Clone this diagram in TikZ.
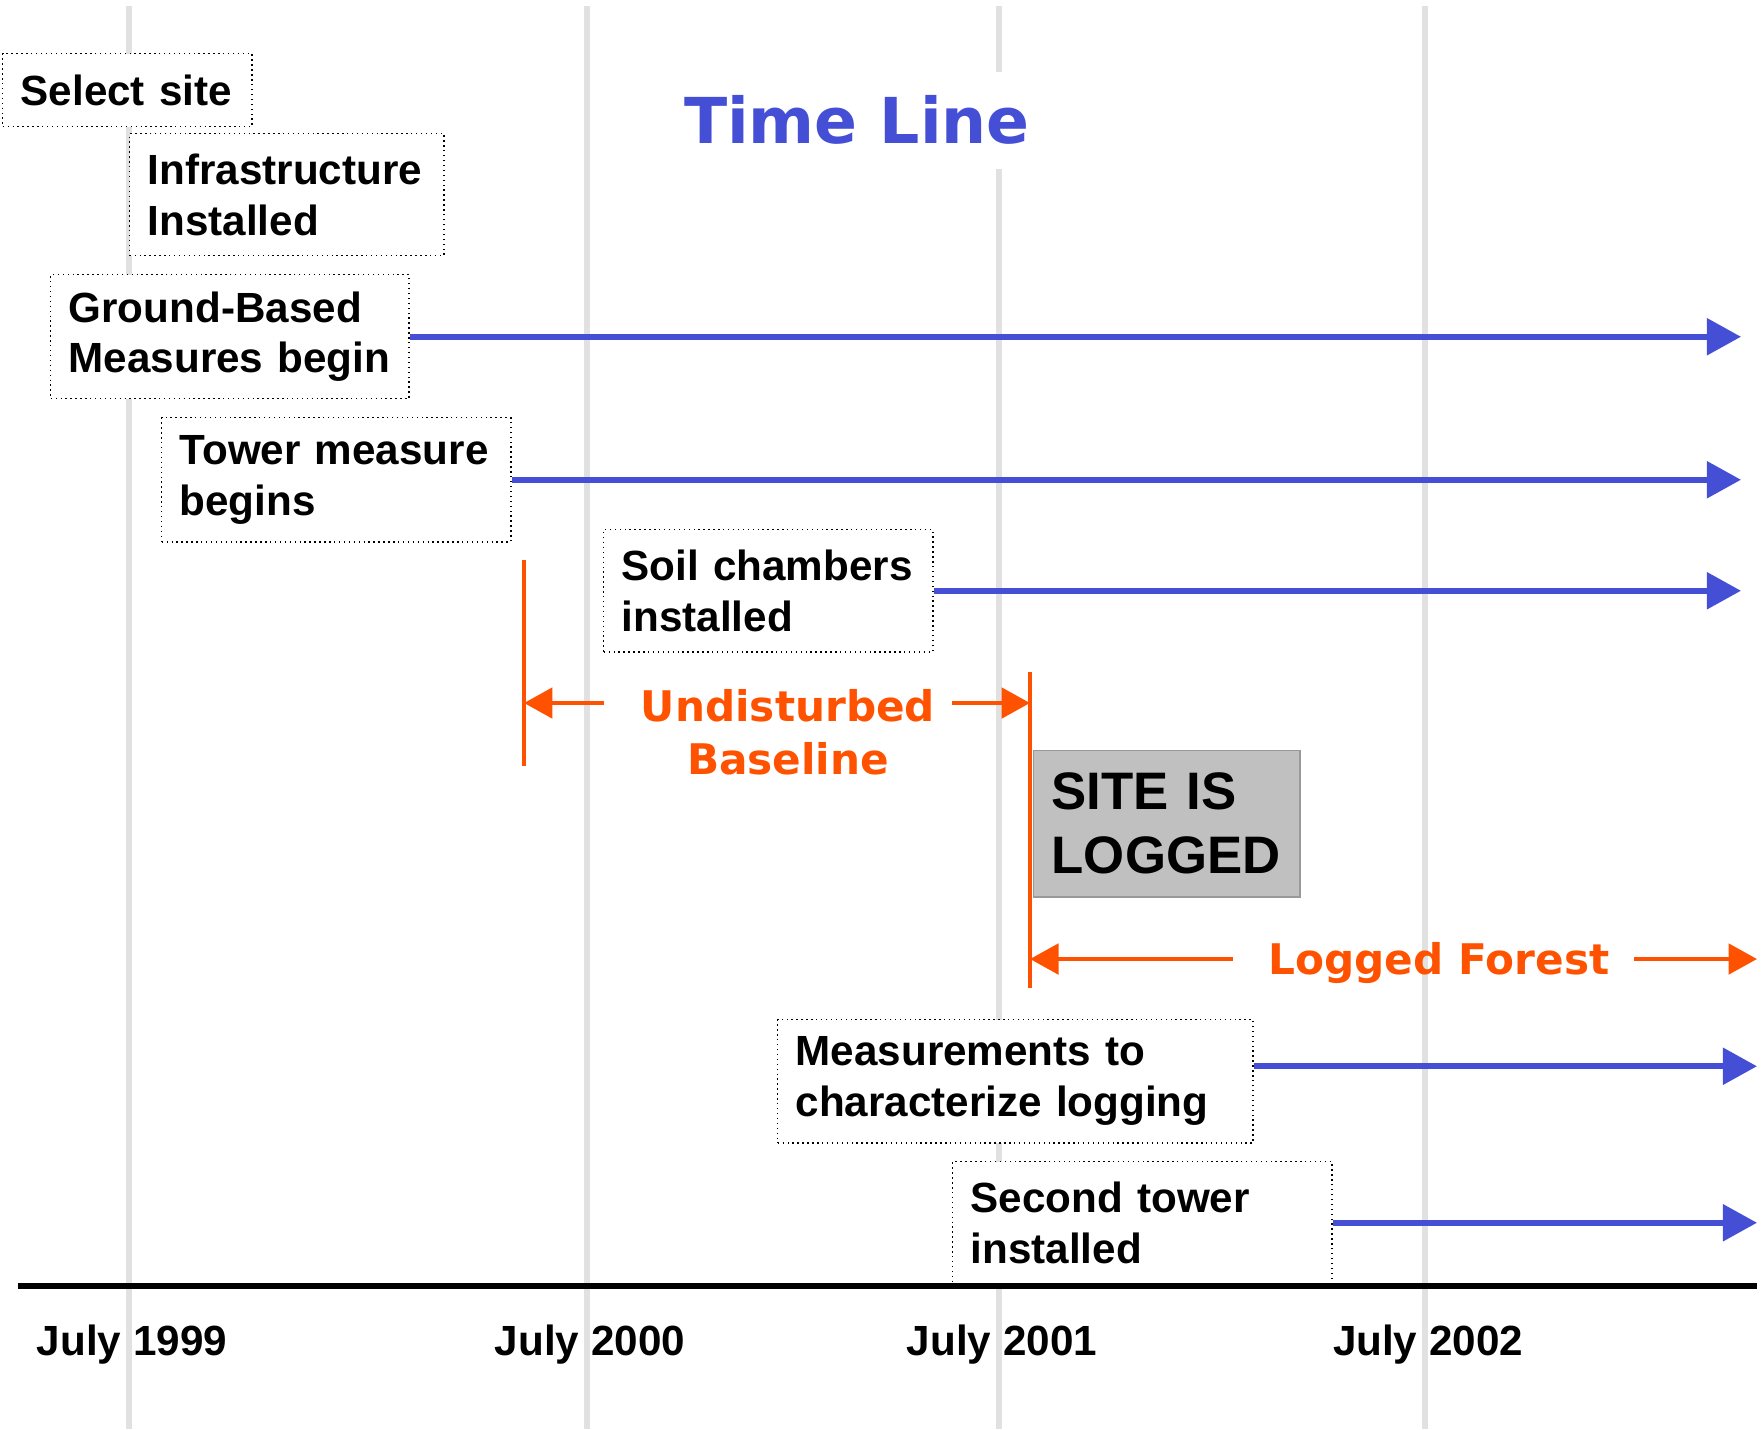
\documentclass[tikz,border=0pt]{standalone}
\usepackage{fontspec}
\setmainfont{Liberation Sans}
\newfontfamily\verdfont{DejaVu Sans}
\usetikzlibrary{arrows.meta}

\definecolor{lineblue}{RGB}{68,79,214}
\definecolor{cutorange}{RGB}{255,82,0}
\definecolor{gridgray}{RGB}{225,225,225}
\definecolor{loggray}{RGB}{192,192,192}

\tikzset{
  stage/.style={draw, densely dotted, line width=0.4pt, fill=white, anchor=north west,
    align=left, inner xsep=1.8mm, inner ysep=0pt,
    font=\fontsize{12}{14.4}\selectfont\bfseries},
  runs/.style={lineblue, line width=1.7pt, -{Triangle[length=9.7pt,width=10.2pt]}},
  cut/.style={cutorange, line width=1.3pt},
  cutarrow/.style={cut, -{Triangle[length=8.1pt,width=8.6pt]}},
  cutlabel/.style={text=cutorange, inner sep=0pt, align=center,
    font=\verdfont\fontsize{12}{15}\selectfont\bfseries},
  year/.style={font=\fontsize{12}{14.4}\selectfont\bfseries}
}

\begin{document}
\begin{tikzpicture}[x=0.01cm,y=-0.01cm]
  \useasboundingbox (0,0) rectangle (1764,1429);
  \def\top{6}
  \def\bottom{1429}
  %years
  \foreach \gx/\yr in {129/1999,587/2000,999/2001,1425/2002}{
    \draw[gridgray,line width=1.6pt] (\gx,\top) -- (\gx,\bottom);
    \node[year] (yr\yr) at (\gx+3,1345) {July \yr};
  }
  %title
  \node[fill=white,text=lineblue,inner xsep=1mm,inner ysep=2.4mm,
    font=\verdfont\fontsize{18}{22}\selectfont\bfseries] (title) at (857,120) {Time Line};
  %stages
  \node[stage,text width=21.3mm,minimum height=7.3mm] (sel) at (2,53) {Select~site};
  \node[stage,text width=27.8mm,minimum height=12.2mm] (infra) at (129,133) {Infrastructure\\Installed};
  \node[stage,text width=32.2mm,minimum height=12.4mm] (gb) at (50,274) {Ground-Based\\Measures~begin};
  \node[stage,text width=31.3mm,minimum height=12.4mm] (tower) at (161,417) {Tower~measure\\begins};
  \node[stage,text width=29.3mm,minimum height=12.2mm] (soil) at (603,529) {Soil~chambers\\installed};
  \node[stage,text width=43.9mm,minimum height=12.3mm] (meas) at (777,1019) {Measurements~to\\characterize~logging};
  \node[stage,text width=34.3mm,minimum height=12.2mm] (second) at (952,1161) {Second~tower\\installed};
  % ongoing measures
  \coordinate (farA) at (1741,0);
  \coordinate (farB) at (1757,0);
  \draw[runs] (gb.east) -- (gb.east -| farA);
  \draw[runs] (tower.east) -- (tower.east -| farA);
  \draw[runs] (soil.east) -- (soil.east -| farA);
  \draw[runs] ([yshift=1.5mm]meas.east) -- ([yshift=1.5mm]meas.east -| farB);
  \draw[runs] (second.east) -- (second.east -| farB);
  %baseline and logging
  \coordinate (cut1a) at (524,560);
  \coordinate (cut1b) at (524,766);
  \coordinate (cut2a) at (1030,672);
  \coordinate (cut2b) at (1030,988);
  \draw[cut] (cut1a) -- (cut1b);
  \draw[cut] (cut2a) -- (cut2b);
  \node[cutlabel] (undist) at (788,732) {Undisturbed\\Baseline};
  \coordinate (ubL) at (604,703);
  \coordinate (ubR) at (952,703);
  \draw[cutarrow] (ubL) -- (ubL -| cut1a);
  \draw[cutarrow] (ubR) -- (ubR -| cut2a);
  \node[draw=gray!80,fill=loggray,anchor=north west,align=left,inner xsep=1.8mm,inner ysep=0pt,
    text width=23mm,minimum height=14.6mm,font=\fontsize{15}{18.2}\selectfont\bfseries]
    (logbox) at (1033,750) {SITE~IS\\LOGGED};
  \node[cutlabel] (logged) at (1439,963) {Logged Forest};
  \draw[cutarrow] ([xshift=-3.5mm,yshift=0.4mm]logged.west) -- ([yshift=0.4mm]logged.west -| cut2a);
  \draw[cutarrow] ([xshift=2.4mm,yshift=0.4mm]logged.east) -- ([yshift=0.4mm]logged.east -| farB);
  %axis
  \draw[line width=1.7pt] (18,1286) -- (1757,1286);
\end{tikzpicture}
\end{document}
